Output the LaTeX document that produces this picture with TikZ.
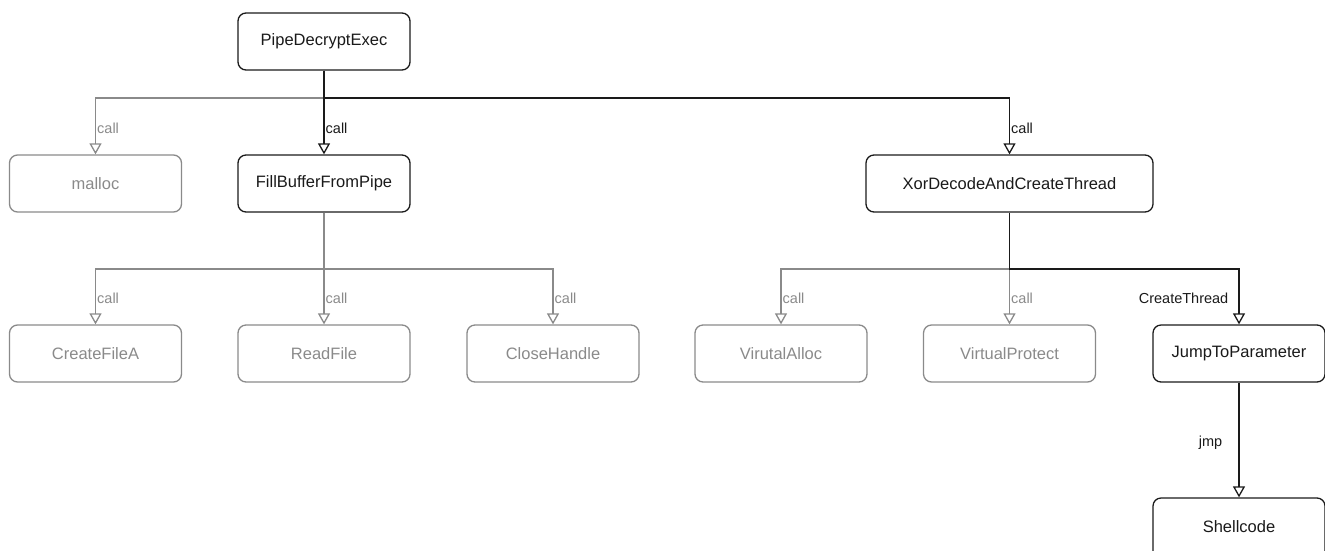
\documentclass[tikz,border=0pt]{standalone}
\usepackage{fontspec}
\setmainfont{Liberation Sans}
\usetikzlibrary{arrows.meta}
\definecolor{gr}{HTML}{8A8A8A}
\definecolor{dk}{HTML}{1A1A1A}
\begin{document}
\begin{tikzpicture}[x=1pt,y=-1pt,
  box/.style={draw=dk, text=dk, rounded corners=8pt, minimum width=172pt, minimum height=57pt,
    font=\fontsize{16.5}{19}\selectfont, line width=1.3pt, inner sep=0pt},
  gbox/.style={box, draw=gr, text=gr},
  edge/.style={draw=dk, line width=1.3pt, -{Triangle[open,width=12pt,length=11pt,line width=1.3pt]}},
  gedge/.style={edge, draw=gr},
  lbl/.style={font=\fontsize{14.5}{16}\selectfont, anchor=west, inner sep=1.5pt, text=dk},
  glbl/.style={lbl, text=gr}]
\useasboundingbox (0,0) rectangle (1325,550);
% nodes
\node[box]  (pde)   at (324,41.5)  {PipeDecryptExec};
\node[gbox] (malloc) at (95.5,183.5) {malloc};
\node[box]  (fill)  at (324,183.5) {FillBufferFromPipe};
\node[box, minimum width=287pt] (xor) at (1009.5,183.5) {XorDecodeAndCreateThread};
\node[gbox] (cfa)   at (95.5,353.5) {CreateFileA};
\node[gbox] (rf)    at (324,353.5) {ReadFile};
\node[gbox] (ch)    at (553,353.5) {CloseHandle};
\node[gbox] (va)    at (781,353.5) {VirutalAlloc};
\node[gbox] (vp)    at (1009.5,353.5) {VirtualProtect};
\node[box]  (jtp)   at (1239,353.5) {JumpToParameter};
\node[box, minimum height=80pt] (sc) at (1239,538) {};
\node[text=dk, font=\fontsize{16.5}{19}\selectfont] (sct) at (1239,526.5) {Shellcode};
% gray edges first
\draw[gedge] (pde.south) -- (pde.south |- 0,98) -| (malloc.north);
\draw[gedge] (fill.south) -- (fill.south |- 0,269) -| (cfa.north);
\draw[gedge] (fill.south) -- (rf.north);
\draw[gedge] (fill.south) -- (fill.south |- 0,269) -| (ch.north);
\draw[gedge] (xor.south) -- (xor.south |- 0,269) -| (va.north);
\draw[gedge] (xor.south) -- (vp.north);
% black edges
\draw[edge] (pde.south) -- (fill.north);
\draw[edge] (pde.south) -- (pde.south |- 0,98) -| (xor.north);
\draw[edge] (xor.south) -- (xor.south |- 0,269) -| (jtp.north);
\draw[edge] (jtp.south) -- (sc.north);
% labels
\node[glbl] (l1) at (95.5,128) {call};
\node[lbl]  (l2) at (324,128) {call};
\node[lbl]  (l3) at (1009.5,128) {call};
\node[glbl] (l4) at (95.5,298) {call};
\node[glbl] (l5) at (324,298) {call};
\node[glbl] (l6) at (553,298) {call};
\node[glbl] (l7) at (781,298) {call};
\node[glbl] (l8) at (1009.5,298) {call};
\node[lbl, anchor=east] (l9) at (1230,298) {CreateThread};
\node[lbl, anchor=east] (l10) at (1224,443) {jmp};
\end{tikzpicture}
\end{document}
